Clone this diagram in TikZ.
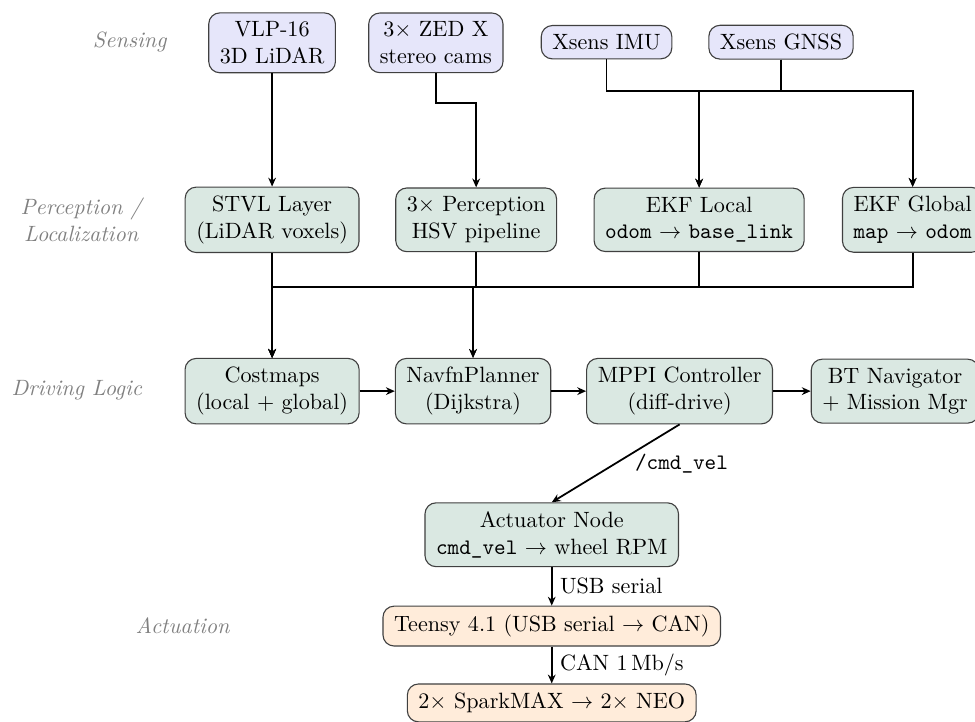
\documentclass[tikz,border=0pt]{standalone}
\usepackage{tikz}
\usetikzlibrary{arrows.meta}
\definecolor{sensfill}{RGB}{230,230,250}
\definecolor{softfill}{RGB}{218,232,226}
\definecolor{hardfill}{RGB}{255,236,218}
\tikzstyle{blk} = [draw=black!75, rounded corners=5pt, align=center, inner xsep=5pt, inner ysep=4pt, line width=0.5pt]
\tikzstyle{sens} = [blk, fill=sensfill]
\tikzstyle{soft} = [blk, fill=softfill]
\tikzstyle{hard} = [blk, fill=hardfill]
\tikzstyle{tier} = [text=black!50, font=\itshape, align=center]
\tikzstyle{wire} = [-{Stealth[length=4pt,width=3.5pt]}, line width=0.8pt]

\begin{document}
\begin{tikzpicture}
  \useasboundingbox (0,0) rectangle (15.48,-11.46);
  % tiers
  \node[tier](lsens) at (2.06,-0.67){Sensing};
  \node[tier](lperc) at (1.29,-3.49){Perception /\\Localization};
  \node[tier](ldrive) at (1.22,-6.19){Driving Logic};
  \node[tier](lact) at (2.90,-9.94){Actuation};
  % sensing
  \node[sens](vlp) at (4.32,-0.68){VLP-16\\3D LiDAR};
  \node[sens](zed) at (6.92,-0.68){3$\times$ ZED X\\stereo cams};
  \node[sens](imu) at (9.63,-0.67){Xsens IMU};
  \node[sens](gnss) at (12.40,-0.67){Xsens GNSS};
  % perception / localization
  \node[soft](stvl) at (4.32,-3.49){STVL Layer\\(LiDAR voxels)};
  \node[soft](perc) at (7.56,-3.49){3$\times$ Perception\\HSV pipeline};
  \node[soft](ekfl) at (11.10,-3.49){EKF Local\\\texttt{odom} $\rightarrow$ \texttt{base\_link}};
  \node[soft](ekfg) at (14.49,-3.49){EKF Global\\\texttt{map} $\rightarrow$ \texttt{odom}};
  % driving logic
  \node[soft](cost) at (4.32,-6.21){Costmaps\\(local + global)};
  \node[soft](navfn) at (7.51,-6.21){NavfnPlanner\\(Dijkstra)};
  \node[soft](mppi) at (10.79,-6.21){MPPI Controller\\(diff-drive)};
  \node[soft](bt) at (14.21,-6.21){BT Navigator\\+ Mission Mgr};
  % actuation
  \node[soft](act) at (8.76,-8.49){Actuator Node\\\texttt{cmd\_vel} $\rightarrow$ wheel RPM};
  \node[hard](teensy) at (8.76,-9.94){Teensy 4.1 (USB serial $\rightarrow$ CAN)};
  \node[hard](spark) at (8.76,-11.16){2$\times$ SparkMAX $\rightarrow$ 2$\times$ NEO};
  % bus heights
  \coordinate (zbus) at (0,-1.63);
  \coordinate (sbus) at (0,-1.44);
  \coordinate (pbus) at (0,-4.56);
  % sensing -> perception
  \draw[wire](vlp)--(stvl);
  \draw[wire](zed.south)--(zed.south |- zbus)-|(perc.north);
  \draw[wire](imu.south)--(imu.south |- sbus)-|(ekfl.north);
  \draw[wire](imu.south)--(imu.south |- sbus)-|(ekfg.north);
  \draw[wire](gnss.south)--(gnss.south |- sbus)-|(ekfl.north);
  \draw[wire](gnss.south)--(gnss.south |- sbus)-|(ekfg.north);
  % perception -> driving logic
  \draw[wire](stvl)--(cost);
  \draw[wire](perc.south)--(perc.south |- pbus)-|(cost.north);
  \draw[wire](perc.south)--(perc.south |- pbus)-|(navfn.north);
  \draw[wire](ekfl.south)--(ekfl.south |- pbus)-|(cost.north);
  \draw[wire](ekfl.south)--(ekfl.south |- pbus)-|(navfn.north);
  \draw[wire](ekfg.south)--(ekfg.south |- pbus)-|(cost.north);
  % driving chain
  \draw[wire](cost)--(navfn);
  \draw[wire](navfn)--(mppi);
  \draw[wire](mppi)--(bt);
  % actuation
  \draw[wire](mppi.south)--node[pos=0.5,right=5pt]{\texttt{/cmd\_vel}}(act.north);
  \draw[wire](act)--node[right]{USB serial}(teensy);
  \draw[wire](teensy)--node[right]{CAN 1\,Mb/s}(spark);
\end{tikzpicture}
\end{document}
